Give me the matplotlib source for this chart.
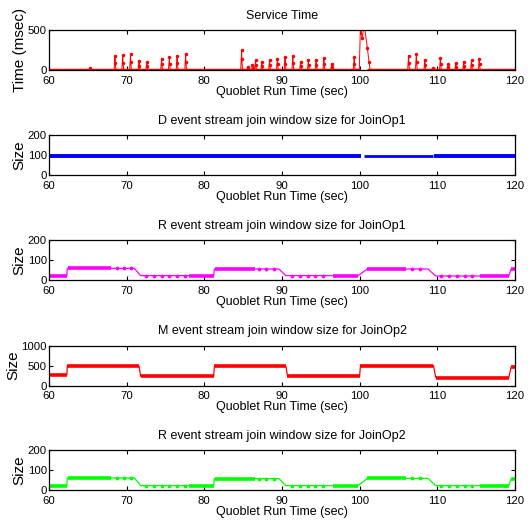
import matplotlib
matplotlib.use('Agg')
import matplotlib.pyplot as plt
import numpy as np

plt.rcParams['font.family'] = ['Liberation Sans', 'DejaVu Sans']
plt.rcParams['font.size'] = 8.5

# ---- service time spikes (sec, msec) ----
spike_t = [65.3, 68.5, 69.5, 70.5, 71.6, 72.6, 74.5, 75.5, 76.5, 77.6, 84.8, 85.6, 86.2, 86.6,
           87.4, 88.4, 89.4, 90.4, 91.4, 92.4, 93.4, 94.4, 95.4, 96.4, 99.3,
           106.3, 107.3, 108.4, 109.4, 110.4, 111.4, 112.4, 113.4, 114.4, 115.4]
spike_peak = [20, 170, 190, 200, 110, 100, 140, 160, 180, 200, 245, 40, 60, 125,
              105, 120, 140, 160, 180, 100, 120, 130, 155, 80, 160,
              180, 200, 120, 20, 155, 70, 85, 105, 120, 140]
spike_mid = [10, 90, 85, 95, 55, 50, 70, 80, 90, 95, 140, 20, 30, 60,
             50, 60, 70, 80, 90, 50, 60, 65, 75, 40, 80,
             90, 100, 60, 10, 75, 35, 40, 50, 60, 70]
big_t = [99.95, 100.1, 100.3, 100.6, 101.0, 101.2, 101.35]
big_v = [0, 560, 400, 560, 270, 100, 0]

# ---- D event stream window, JoinOp1 ----
d_t = [60, 100.2, 100.6, 109.5, 109.6, 120]
d_v = [95, 95, 93, 93, 95, 95]

# ---- R event stream window, JoinOp1 ----
r1_t = [60, 62.3, 62.35, 71.0, 71.8, 81.2, 81.3, 89.6, 90.5, 99.8, 101.0, 108.8, 109.8, 119.2, 119.5, 120]
r1_v = [22, 22, 58, 58, 22, 22, 55, 55, 22, 22, 55, 55, 20, 20, 55, 55]
r1_dense = [(60, 62.3), (62.4, 68), (78, 81.2), (81.35, 86.5), (96.6, 99.8), (101, 106), (115.5, 119.2), (119.5, 120)]
r1_dots = [68.7, 69.6, 70.5, 72.5, 73.5, 74.5, 75.5, 76.5, 77.5, 87.0, 88.0, 89.0,
           91.3, 92.3, 93.3, 94.3, 95.3, 106.8, 107.8, 110.5, 111.5, 112.5, 113.5, 114.5]

# ---- M event stream window, JoinOp2 ----
m_t = [60, 62.3, 62.35, 71.6, 71.8, 81.2, 81.3, 90.5, 90.7, 100.0, 100.1, 109.5, 109.8, 119.2, 119.5, 120]
m_v = [270, 270, 480, 480, 230, 230, 480, 480, 250, 250, 500, 500, 200, 200, 460, 460]

# ---- R event stream window, JoinOp2 ----
r2_t = [60, 62.3, 62.35, 71.0, 71.8, 81.2, 81.3, 89.6, 90.5, 99.8, 101.0, 108.8, 109.8, 119.2, 119.5, 120]
r2_v = [22, 22, 60, 60, 22, 22, 57, 57, 22, 22, 58, 58, 22, 22, 55, 55]
r2_dense = r1_dense
r2_dots = r1_dots

W, H = 530, 527
fig = plt.figure(figsize=(W / 100, H / 100), dpi=100)
left, right = 49, 515
bottoms = [70, 175, 280, 385.5, 490]
axh = 40


def make_ax(bot_px):
    ax = fig.add_axes([left / W, (H - bot_px) / H, (right - left) / W, axh / H])
    ax.set_xlim(60, 120)
    ax.set_xticks(range(60, 121, 10))
    ax.tick_params(direction='in', top=True, right=True, length=3, width=0.8, labelsize=8.2)
    ax.tick_params(axis='x', pad=4)
    ax.tick_params(axis='y', pad=1.5)
    for s in ax.spines.values():
        s.set_linewidth(0.9)
    ax.set_xlabel('Quoblet Run Time (sec)', fontsize=9, labelpad=0)
    return ax


# panel 1: service time
ax = make_ax(bottoms[0])
ax.plot([60, 99.9], [0, 0], color='red', lw=2.5, solid_capstyle='butt')
ax.plot([101.0, 120], [0, 0], color='red', lw=2.5, solid_capstyle='butt')
for t, p, m in zip(spike_t, spike_peak, spike_mid):
    ax.plot([t - 0.12, t, t + 0.03, t + 0.12], [0, p, m, 0], color='red', lw=0.7,
            marker='.', ms=3)
ax.plot(big_t, big_v, color='red', lw=0.7, marker='.', ms=3)
ax.set_ylim(0, 500)
ax.set_yticks([0, 500])
ax.set_ylabel('Time (msec)', fontsize=11, labelpad=1)
ax.set_title('Service Time', fontsize=9, pad=8)


def step_panel(ax, t, v, color, dense=None, dots=None):
    ax.plot(t, v, color=color, lw=0.9)
    if dense:
        for a, b in dense:
            lv = np.interp((a + b) / 2, t, v)
            ax.plot([a, b], [lv, lv], color=color, lw=2.6, solid_capstyle='butt')
    if dots:
        ax.plot(dots, np.interp(dots, t, v), '.', color=color, ms=3.5)


# panel 2
ax = make_ax(bottoms[1])
ax.plot(d_t[:2], d_v[:2], color='blue', lw=2.8, solid_capstyle='butt')
ax.plot(d_t[2:4], d_v[2:4], color='blue', lw=2.0, solid_capstyle='butt')
ax.plot(d_t[4:], d_v[4:], color='blue', lw=2.8, solid_capstyle='butt')
ax.set_ylim(0, 200)
ax.set_yticks([0, 100, 200])
ax.set_ylabel('Size', fontsize=11, labelpad=1)
ax.set_title('D event stream join window size for JoinOp1', fontsize=9, pad=8)

# panel 3
ax = make_ax(bottoms[2])
step_panel(ax, r1_t, r1_v, 'magenta', r1_dense, r1_dots)
ax.set_ylim(0, 200)
ax.set_yticks([0, 100, 200])
ax.set_ylabel('Size', fontsize=11, labelpad=1)
ax.set_title('R event stream join window size for JoinOp1', fontsize=9, pad=8)

# panel 4
ax = make_ax(bottoms[3])
step_panel(ax, m_t, m_v, 'red', [(m_t[i], m_t[i + 1]) for i in range(0, len(m_t), 2)])
ax.set_ylim(0, 1000)
ax.set_yticks([0, 500, 1000])
ax.set_ylabel('Size', fontsize=11, labelpad=1)
ax.set_title('M event stream join window size for JoinOp2', fontsize=9, pad=8)

# panel 5
ax = make_ax(bottoms[4])
step_panel(ax, r2_t, r2_v, 'lime', r2_dense, r2_dots)
ax.set_ylim(0, 200)
ax.set_yticks([0, 100, 200])
ax.set_ylabel('Size', fontsize=11, labelpad=1)
ax.set_title('R event stream join window size for JoinOp2', fontsize=9, pad=8)

fig.savefig('out.png', dpi=100)
